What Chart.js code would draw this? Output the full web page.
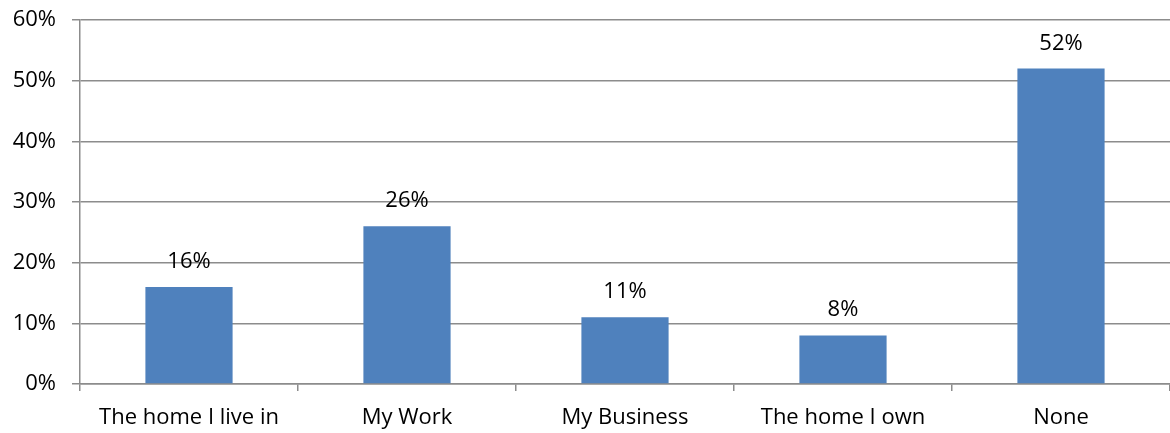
<!DOCTYPE html>
<html>
<head>
<meta charset="utf-8">
<script src="https://cdn.jsdelivr.net/npm/chart.js@4/dist/chart.umd.min.js"></script>
<style>
  html, body { margin: 0; padding: 0; background: #ffffff; }
  #wrap { width: 1170px; height: 433px; position: relative; }
</style>
</head>
<body>
<div id="wrap"><canvas id="c"></canvas></div>
<script>
// Survey answers and their shares (percent)
const categories = ["The home I live in", "My Work", "My Business", "The home I own", "None"];
const shares = [16, 26, 11, 8, 52];
const yTicks = [0, 10, 20, 30, 40, 50, 60];

const FONT = "'Open Sans', 'Liberation Sans', sans-serif";
const FONT_SIZE = 22;
const GRID = "#8c8c8c";

// Writes the percentage above each bar
const valueLabels = {
  id: "valueLabels",
  afterDatasetsDraw(chart) {
    const ctx = chart.ctx;
    const meta = chart.getDatasetMeta(0);
    ctx.save();
    ctx.font = FONT_SIZE + "px " + FONT;
    ctx.fillStyle = "#000000";
    ctx.textAlign = "center";
    ctx.textBaseline = "alphabetic";
    meta.data.forEach((bar, i) => {
      ctx.fillText(shares[i] + "%", bar.x, bar.y - 19);
    });
    ctx.restore();
  }
};

new Chart(document.getElementById("c"), {
  type: "bar",
  data: {
    labels: categories,
    datasets: [{
      data: shares,
      backgroundColor: "#4f81bd",
      borderWidth: 0,
      barPercentage: 0.4,
      categoryPercentage: 1.0
    }]
  },
  options: {
    responsive: true,
    maintainAspectRatio: false,
    animation: false,
    layout: { padding: { top: 20, right: 0, bottom: 0, left: 0 } },
    plugins: { legend: { display: false }, tooltip: { enabled: false } },
    scales: {
      x: {
        afterFit(axis) {
          axis.height = 49;
          axis.paddingLeft = 0;
          axis.paddingRight = 0;
        },
        grid: {
          display: true,
          drawOnChartArea: false,
          drawTicks: true,
          tickLength: 7,
          color: GRID,
          lineWidth: 1.5
        },
        border: { display: true, color: GRID, width: 1.5 },
        ticks: {
          color: "#000000",
          font: { family: FONT, size: FONT_SIZE },
          padding: 14,
          maxRotation: 0,
          autoSkip: false
        }
      },
      y: {
        min: 0,
        max: 60,
        afterFit(axis) {
          axis.width = 80;
          axis.paddingTop = 0;
          axis.paddingBottom = 0;
        },
        afterBuildTicks(axis) { axis.ticks = yTicks.map(v => ({ value: v })); },
        grid: {
          color: GRID,
          lineWidth: 1.5,
          drawTicks: true,
          tickLength: 8
        },
        border: { display: true, color: GRID, width: 1.5 },
        ticks: {
          color: "#000000",
          font: { family: FONT, size: FONT_SIZE },
          padding: 16,
          callback: v => v + "%"
        }
      }
    }
  },
  plugins: [valueLabels]
});
</script>
</body>
</html>
